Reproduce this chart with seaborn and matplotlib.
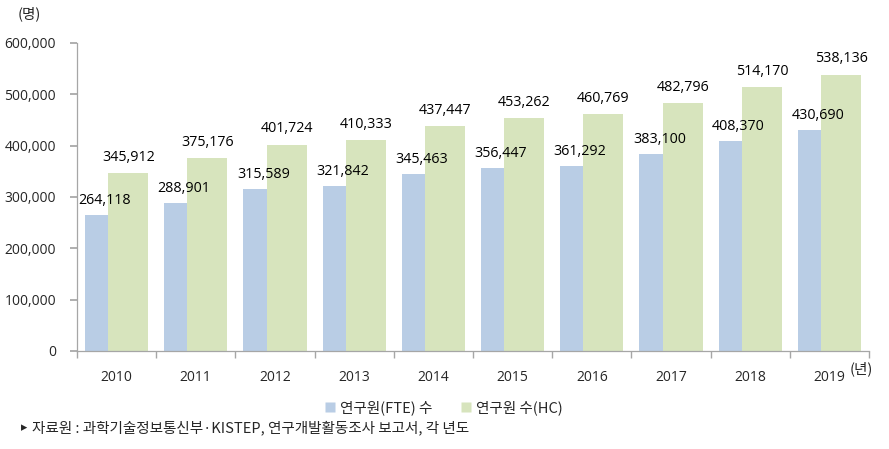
import matplotlib
matplotlib.use("Agg")
import matplotlib.pyplot as plt
import seaborn as sns
import pandas as pd
from matplotlib.lines import Line2D

years = ["2010", "2011", "2012", "2013", "2014", "2015", "2016", "2017", "2018", "2019"]
fte = [264118, 288901, 315589, 321842, 345463, 356447, 361292, 383100, 408370, 430690]
hc = [345912, 375176, 401724, 410333, 437447, 453262, 460769, 482796, 514170, 538136]
series = ["연구원(FTE) 수", "연구원 수(HC)"]
colors = ["#B9CDE5", "#D7E4BD"]
yticks = [0, 100000, 200000, 300000, 400000, 500000, 600000]

sns.set_theme(style="white")
plt.rcParams["font.family"] = ["Noto Sans CJK KR", "DejaVu Sans"]
NUMFONT = ["Open Sans", "DejaVu Sans"]

df = pd.DataFrame({
    "year": years * 2,
    "value": fte + hc,
    "series": [series[0]] * len(years) + [series[1]] * len(years),
})

fig = plt.figure(figsize=(8.89, 4.49), dpi=100)
ax = fig.add_axes([77 / 889, 1 - 351 / 449, (869 - 77) / 889, (351 - 43) / 449])

sns.barplot(data=df, x="year", y="value", hue="series", palette=colors,
            hue_order=series, order=years, width=0.8, dodge=True,
            saturation=1, ax=ax, legend=False, errorbar=None)

# overlapping bars like the original (green drawn over blue)
bw = 0.505
off = 0.147
for p in ax.patches[:2 * len(years)]:
    cx = p.get_x() + p.get_width() / 2
    k = int(round(cx))
    s = -1 if cx < k else 1
    newc = k + s * off
    p.set_width(bw)
    p.set_x(newc - bw / 2)
    p.set_edgecolor("none")

for i in range(len(years)):
    ax.annotate(f"{fte[i]:,}", (i - off, fte[i]), xytext=(0, 5), textcoords="offset points",
                ha="center", va="bottom", fontsize=10.3, color="black", family=NUMFONT)
    ax.annotate(f"{hc[i]:,}", (i + off, hc[i]), xytext=(0, 6), textcoords="offset points",
                ha="center", va="bottom", fontsize=10.3, color="black", family=NUMFONT)

ax.set_xlim(-0.5, len(years) - 0.5)
ax.set_ylim(0, 600000)
ax.set_yticks(yticks)
ax.set_yticklabels([f"{v:,}" for v in yticks], fontsize=10, family=NUMFONT)
ax.set_xticks(range(len(years)))
ax.set_xticklabels(years, fontsize=10, family=NUMFONT)
ax.set_xlabel("")
ax.set_ylabel("")

for side in ["top", "right"]:
    ax.spines[side].set_visible(False)
for side in ["left", "bottom"]:
    ax.spines[side].set_color("#A6A6A6")
    ax.spines[side].set_linewidth(0.9)

ax.tick_params(axis="y", which="major", left=True, length=5, color="#A6A6A6", pad=10)
ax.tick_params(axis="x", which="major", bottom=False, pad=8)
ax.set_xticks([i + 0.5 for i in range(-1, len(years))], minor=True)
ax.tick_params(axis="x", which="minor", bottom=True, length=5, color="#A6A6A6")

fig.text(29 / 889, 1 - 14 / 449, "(명)", ha="center", va="center", fontsize=10.5)
fig.text(850 / 889, 1 - 369 / 449, "(년)", ha="left", va="center", fontsize=10.5)

handles = [Line2D([0], [0], marker="s", linestyle="none", markersize=7,
                  markerfacecolor=c, markeredgecolor="none") for c in colors]
fig.legend(handles, series, loc="center", bbox_to_anchor=(443 / 889, 1 - 408 / 449),
           ncol=2, frameon=False, fontsize=10.5, handletextpad=0.2, columnspacing=1.8,
           handlelength=1.0)

fig.text(21 / 889, 1 - 428 / 449, "▸", ha="left", va="center", fontsize=9,
         family=["DejaVu Sans"])
fig.text(32 / 889, 1 - 428 / 449,
         "자료원 : 과학기술정보통신부·KISTEP, 연구개발활동조사 보고서, 각 년도",
         ha="left", va="center", fontsize=10.5)

fig.savefig("out.png", dpi=100)
